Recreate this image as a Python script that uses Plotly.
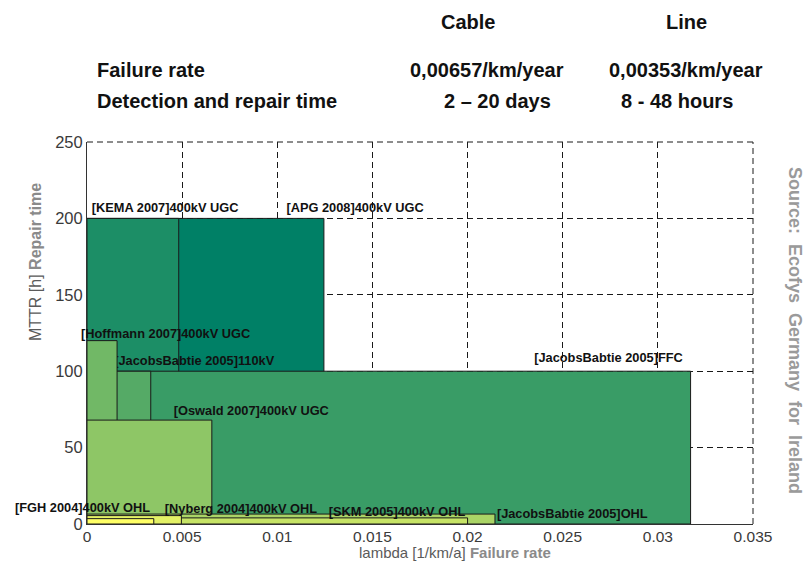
import plotly.graph_objects as go

# ---------------- data ----------------
studies = [
    "[APG 2008]400kV UGC",
    "[KEMA 2007]400kV UGC",
    "[JacobsBabtie 2005]FFC",
    "[JacobsBabtie 2005]110kV",
    "[Hoffmann 2007]400kV UGC",
    "[Oswald 2007]400kV UGC",
    "[JacobsBabtie 2005]OHL",
    "[SKM 2005]400kV OHL",
    "[Nyberg 2004]400kV OHL",
    "[FGH 2004]400kV OHL",
]
failure_rate = [0.01245, 0.00482, 0.03172, 0.00335, 0.00158, 0.00656, 0.02144, 0.02000, 0.00496, 0.00351]
repair_time = [200, 200, 100, 100, 120, 68, 6.5, 4, 5.5, 3.5]

x_ticks = [0, 0.005, 0.01, 0.015, 0.02, 0.025, 0.03, 0.035]
x_ticklabels = ["0", "0.005", "0.01", "0.015", "0.02", "0.025", "0.03", "0.035"]
y_ticks = [0, 50, 100, 150, 200, 250]

table_header = ["Cable", "Line"]
table_rows = ["Failure rate", "Detection and repair time"]
table_cable = ["0,00657/km/year", "2 \u2013 20 days"]
table_line = ["0,00353/km/year", "8 - 48 hours"]

# ---------------- style / layout ----------------
# MATLAB "summer" colormap, one colour per box
def summer(i, n):
    t = i / (n - 1)
    return "rgb(%d,%d,%d)" % (round(255 * t), round(255 * (0.5 + 0.5 * t)), 102)

# label anchor (left edge x, vertical centre y) in data units
label_pos = [
    (0.01048, 206.4),
    (0.00025, 206.4),
    (0.02350, 107.9),
    (0.00143, 106.1),
    (-0.00042, 124.7),
    (0.00456, 73.4),
    (0.02154, 5.9),
    (0.01270, 7.0),
    (0.00409, 9.6),
    (-0.00389, 10.8),
]

W, H = 810, 561
L, R, T, B = 87, 57, 142, 37
PW, PH = W - L - R, H - T - B
XMAX, YMAX = 0.035, 250

def px(xp):
    return (xp - L) / PW

def py(yp):
    return (H - B - yp) / PH

LABEL_FONT = dict(family="Liberation Sans, Arial, sans-serif", size=12.8, color="#111111")

fig = go.Figure()
ann = []
n = len(studies)
for i in range(n):
    xe, h = failure_rate[i], repair_time[i]
    fig.add_trace(go.Scatter(
        x=[0, xe, xe, 0, 0], y=[0, 0, h, h, 0],
        mode="lines", fill="toself", fillcolor=summer(i, n),
        line=dict(color="#1a1a1a", width=1),
        hoverinfo="text", text=studies[i], showlegend=False,
    ))
    lx, ly = label_pos[i]
    if lx >= 0:
        fig.add_trace(go.Scatter(
            x=[lx], y=[ly], mode="text", text=["<b>%s</b>" % studies[i]],
            textposition="middle right", textfont=LABEL_FONT,
            cliponaxis=False, showlegend=False, hoverinfo="skip",
        ))
    else:
        ann.append(dict(xref="paper", yref="y", x=lx / XMAX, y=ly, xanchor="left",
                        yanchor="middle", showarrow=False, text="<b>%s</b>" % studies[i],
                        font=LABEL_FONT))

grid = dict(showgrid=True, gridcolor="#1a1a1a", gridwidth=1, griddash="6px,4px")
TICKF = dict(family="Liberation Sans, Arial", size=15.5, color="#3a3a3a")
fig.update_xaxes(range=[0, XMAX], tickvals=x_ticks, ticktext=x_ticklabels,
                 showline=True, linecolor="#333333", linewidth=1, zeroline=False,
                 ticks="", tickfont=TICKF, ticklabelstandoff=-2, **grid)
fig.update_yaxes(range=[0, YMAX], tickvals=y_ticks,
                 showline=True, linecolor="#333333", linewidth=1, zeroline=False,
                 ticks="", tickfont=dict(TICKF, size=16.5), **grid)

# dashed frame on top and right (grid lines at the range ends)
shapes = [
    dict(type="line", xref="paper", yref="paper", x0=0, x1=1, y0=1, y1=1,
         line=dict(color="#1a1a1a", width=1, dash="6px,4px"), layer="below"),
    dict(type="line", xref="paper", yref="paper", x0=1, x1=1, y0=0, y1=1,
         line=dict(color="#1a1a1a", width=1, dash="6px,4px"), layer="below"),
]

TF = dict(family="Liberation Sans, Arial, sans-serif", size=20, color="#111111")
tab = []
tab.append(dict(x=px(468), y=py(22), text="<b>%s</b>" % table_header[0], xanchor="center"))
tab.append(dict(x=px(686), y=py(22), text="<b>%s</b>" % table_header[1], xanchor="center"))
for r, yy in enumerate([70, 101]):
    tab.append(dict(x=px(95), y=py(yy), text="<b>%s</b>" % table_rows[r], xanchor="left"))
    tab.append(dict(x=px([487, 497][r]), y=py(yy), text="<b>%s</b>" % table_cable[r], xanchor="center"))
    tab.append(dict(x=px([686, 677][r]), y=py(yy), text="<b>%s</b>" % table_line[r], xanchor="center"))
for a in tab:
    a.update(xref="paper", yref="paper", yanchor="middle", showarrow=False, font=TF)
ann += tab

# axis titles
ann.append(dict(xref="paper", yref="paper", x=px(455), y=py(552.5), xanchor="center", yanchor="middle",
                showarrow=False,
                text="<span style='color:#5a5a5a'>lambda [1/km/a] </span><b><span style='color:#8a8a8a'>Failure rate</span></b>",
                font=dict(family="Liberation Sans, Arial", size=15)))
ann.append(dict(xref="paper", yref="paper", x=px(35), y=py(262), xanchor="center", yanchor="middle",
                showarrow=False, textangle=-90,
                text="<span style='color:#5a5a5a'>MTTR [h] </span><b><span style='color:#8a8a8a'>Repair time</span></b>",
                font=dict(family="Liberation Sans, Arial", size=16)))
ann.append(dict(xref="paper", yref="paper", x=px(795), y=py(330), xanchor="center", yanchor="middle",
                showarrow=False, textangle=90,
                text="<b>Source:  Ecofys  Germany  for  Ireland</b>",
                font=dict(family="Liberation Sans, Arial", size=18, color="#9a9a9a")))

fig.update_layout(
    width=W, height=H, margin=dict(l=L, r=R, t=T, b=B),
    plot_bgcolor="white", paper_bgcolor="white",
    annotations=ann, shapes=shapes, showlegend=False,
)

fig.write_html("out.html", config={"displayModeBar": False},
               post_script="document.body.style.margin='0px';document.body.style.padding='0px';")
